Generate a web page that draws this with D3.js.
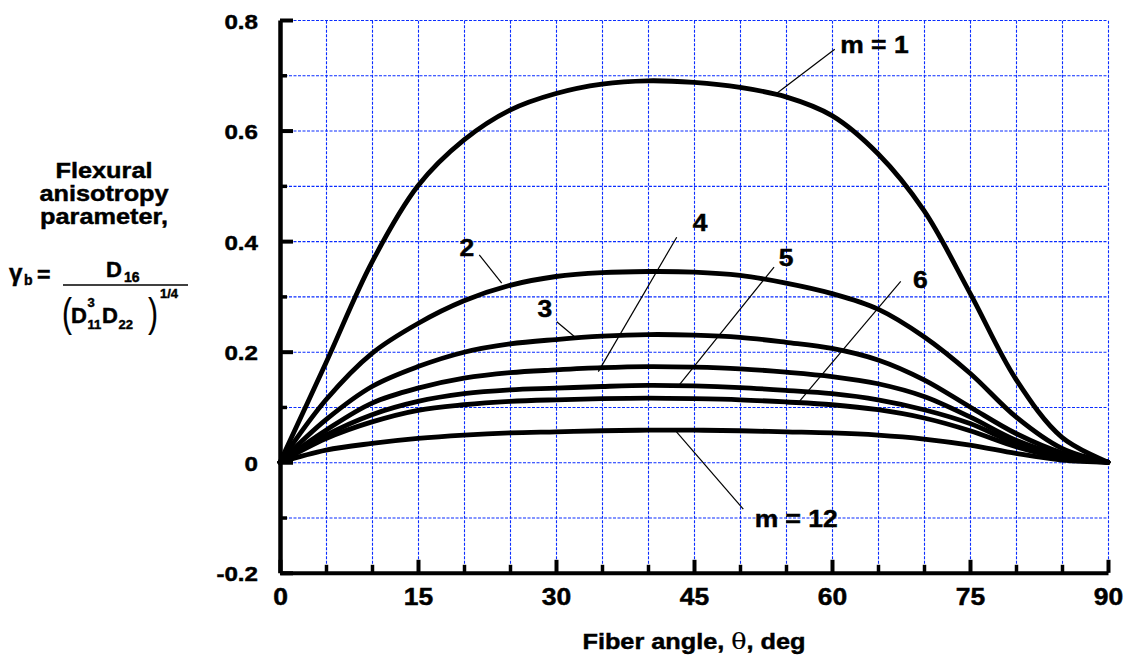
<!DOCTYPE html>
<html><head><meta charset="utf-8">
<script src="https://cdn.jsdelivr.net/npm/d3@7"></script>
<style>
body{margin:0;background:#fff}
svg{display:block}
text{font-family:"Liberation Sans",Arial,Helvetica,sans-serif;font-weight:bold;fill:#000;stroke:#000;stroke-width:0.45px}
</style>
</head><body>
<svg id="c" width="1128" height="658"></svg>
<script>
// ---- data ----
const angles = [0,5,10,15,20,25,30,35,40,45,50,55,60,65,70,75,80,85,90];
const m1  = [0,0.180,0.362,0.500,0.583,0.637,0.667,0.684,0.690,0.687,0.678,0.661,0.627,0.558,0.455,0.306,0.150,0.045,0];
const m2  = [0,0.113,0.197,0.251,0.292,0.320,0.336,0.343,0.345,0.344,0.338,0.324,0.305,0.277,0.227,0.161,0.082,0.025,0];
const m3  = [0,0.077,0.137,0.173,0.199,0.214,0.222,0.228,0.231,0.230,0.226,0.217,0.206,0.185,0.149,0.100,0.052,0.017,0];
const m4  = [0,0.058,0.107,0.134,0.152,0.162,0.167,0.171,0.173,0.172,0.169,0.163,0.155,0.142,0.119,0.082,0.040,0.013,0];
const m5  = [0,0.049,0.086,0.110,0.124,0.131,0.134,0.137,0.139,0.138,0.135,0.130,0.124,0.113,0.095,0.070,0.034,0.011,0];
const m6  = [0,0.043,0.073,0.094,0.104,0.110,0.113,0.115,0.116,0.115,0.113,0.109,0.104,0.095,0.080,0.057,0.028,0.008,0];
const m12 = [0,0.022,0.034,0.043,0.049,0.053,0.055,0.057,0.058,0.058,0.057,0.055,0.053,0.049,0.042,0.031,0.016,0.004,0];
const seriesList = [m1,m2,m3,m4,m5,m6,m12];

const xTickLabels = [0,15,30,45,60,75,90];
const xMinor = [5,10,20,25,35,40,50,55,65,70,80,85];
const yTickLabels = [-0.2,0,0.2,0.4,0.6,0.8];
const yMinor = [-0.1,0.1,0.3,0.5,0.7];
const xGrid = [5,10,15,20,25,30,35,40,45,50,55,60,65,70,75,80,85,90];
const yGrid = [-0.1,0,0.1,0.2,0.3,0.4,0.5,0.6,0.7,0.8];

// annotation labels: text anchor and leader endpoints in data units
const labelText = ["m = 1","2","3","4","5","6","m = 12"];
const labelPos  = [[60.9,0.740],[20.3,0.373],[28.8,0.263],[45.65,0.418],[55.0,0.355],[69.6,0.315],[51.6,-0.117]];
const leaderFrom = [[60.3,0.747],[21.66,0.375],[30.08,0.254],[43.12,0.407],[53.7,0.353],[67.47,0.327],[50.36,-0.085]];
const leaderTo   = [[53.9,0.666],[24.1,0.324],[31.96,0.228],[34.6,0.164],[43.4,0.140],[56.5,0.111],[43.1,0.055]];

// ---- layout ----
const svg = d3.select("#c");
const L = 280, R = 1108, TOP = 20, BOT = 572.8;
const x = d3.scaleLinear().domain([0,90]).range([L,R]);
const y = d3.scaleLinear().domain([-0.2,0.8]).range([BOT,TOP]);
const SX = 1.15;

function T(px, py, s, size, anchor, sx){
  return svg.append("text")
    .attr("transform",`translate(${px},${py}) scale(${sx||SX},1)`)
    .attr("font-size",size)
    .attr("text-anchor",anchor||"start")
    .text(s);
}

// grid
const gridColor = "#0a2cff";
svg.append("g").attr("transform",`translate(0,${BOT})`)
  .call(d3.axisBottom(x).tickValues(xGrid).tickSize(-(BOT-TOP)).tickFormat(""))
  .call(g=>g.select(".domain").remove())
  .call(g=>g.selectAll("line").attr("stroke",gridColor).attr("stroke-width",1.1).attr("stroke-dasharray","3,1.5"));
svg.append("g").attr("transform",`translate(${L},0)`)
  .call(d3.axisLeft(y).tickValues(yGrid).tickSize(-(R-L)).tickFormat(""))
  .call(g=>g.select(".domain").remove())
  .call(g=>g.selectAll("line").attr("stroke",gridColor).attr("stroke-width",1.1).attr("stroke-dasharray","3,1.5"));

// curves
const line = d3.line().x((d,i)=>x(angles[i])).y(d=>y(d)).curve(d3.curveCatmullRom.alpha(0.5));
svg.append("g").selectAll("path").data(seriesList).join("path")
  .attr("d",line).attr("fill","none").attr("stroke","#000")
  .attr("stroke-width",4.8).attr("stroke-linejoin","round").attr("stroke-linecap","round");

// axes (inward ticks)
const xAxMaj = svg.append("g").attr("transform",`translate(0,${BOT})`)
  .call(d3.axisBottom(x).tickValues(xTickLabels).tickSize(-13).tickSizeOuter(0).tickFormat(d3.format("d")));
xAxMaj.select(".domain").attr("stroke","#000").attr("stroke-width",4);
xAxMaj.selectAll(".tick line").attr("stroke","#000").attr("stroke-width",4);
xAxMaj.selectAll(".tick text").attr("y",null).attr("dy",null)
  .attr("transform",`translate(0,32) scale(${SX},1)`).attr("font-size",23);
svg.append("g").attr("transform",`translate(0,${BOT})`)
  .call(d3.axisBottom(x).tickValues(xMinor).tickSize(-8).tickFormat(""))
  .call(g=>g.select(".domain").remove())
  .call(g=>g.selectAll("line").attr("stroke","#000").attr("stroke-width",3.5));

const yAxMaj = svg.append("g").attr("transform",`translate(${L},0)`)
  .call(d3.axisLeft(y).tickValues(yTickLabels).tickSize(-13).tickSizeOuter(0)
    .tickFormat(d=> d===0 ? "0" : (d<0 ? "-" : "") + d3.format(".1f")(Math.abs(d))));
yAxMaj.select(".domain").attr("stroke","#000").attr("stroke-width",4.5);
yAxMaj.selectAll(".tick line").attr("stroke","#000").attr("stroke-width",4);
yAxMaj.selectAll(".tick text").attr("x",null).attr("dy",null)
  .attr("transform",`translate(-22,8) scale(${SX},1)`).attr("font-size",21);
svg.append("g").attr("transform",`translate(${L},0)`)
  .call(d3.axisLeft(y).tickValues(yMinor).tickSize(-7).tickFormat(""))
  .call(g=>g.select(".domain").remove())
  .call(g=>g.selectAll("line").attr("stroke","#000").attr("stroke-width",3.5));
svg.selectAll("g[font-family]").attr("font-family",null);

// leader lines + labels
labelText.forEach((t,i)=>{
  svg.append("line")
    .attr("x1",x(leaderFrom[i][0])).attr("y1",y(leaderFrom[i][1]))
    .attr("x2",x(leaderTo[i][0])).attr("y2",y(leaderTo[i][1]))
    .attr("stroke","#000").attr("stroke-width",1.2);
  const anchor = t.startsWith("m") ? "start" : "middle";
  T(x(labelPos[i][0]), y(labelPos[i][1]), t, 23, anchor);
});

// x-axis title
const xt = svg.append("text").attr("transform",`translate(694,649) scale(${SX},1)`)
  .attr("font-size",22).attr("text-anchor","middle");
xt.append("tspan").text("Fiber angle, ");
xt.append("tspan").style("font-weight","normal").attr("font-family","'DejaVu Serif',serif").style("stroke-width","0.2px").text("θ");
xt.append("tspan").text(", deg");

// y-axis title
T(104,178,"Flexural",22,"middle");
T(104,201,"anisotropy",22,"middle");
T(104,224,"parameter,",22,"middle");

// formula
T(9,281,"γ",23,"start",1.05);
T(24,285,"b",14,"start",1);
T(37,282,"=",22,"start",1.05);
svg.append("line").attr("x1",63).attr("x2",188).attr("y1",285).attr("y2",285).attr("stroke","#000").attr("stroke-width",1.3);
T(106,277,"D",22,"start",1);
T(124,282,"16",14,"start",1);
svg.append("text").attr("transform","translate(62,327) scale(0.75,1)").attr("font-size",40).style("font-weight","normal").style("stroke-width","0.2px").text("(");
T(71,323,"D",22,"start",1);
T(87.5,307,"3",13,"start",1);
T(87.5,329,"11",13,"start",1);
T(102,323,"D",22,"start",1);
T(118.5,329,"22",13,"start",1);
svg.append("text").attr("transform","translate(148,327) scale(0.75,1)").attr("font-size",40).style("font-weight","normal").style("stroke-width","0.2px").text(")");
T(160,298,"1/4",13,"start",1);
</script>
</body></html>
